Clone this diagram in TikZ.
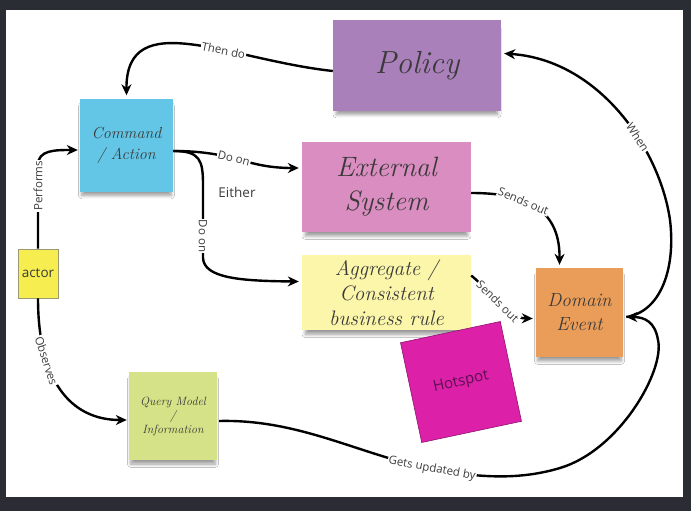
\documentclass[tikz,border=0pt]{standalone}
\usepackage{fontspec}
\newfontfamily\lab{Open Sans}
\usetikzlibrary{arrows.meta,calc,shadows.blur}
\definecolor{bgdark}{HTML}{2A2D33}
\definecolor{policyc}{HTML}{AA80BA}
\definecolor{cmdc}{HTML}{63C6E6}
\definecolor{extc}{HTML}{DA8DC0}
\definecolor{aggc}{HTML}{FBF6AA}
\definecolor{domc}{HTML}{EA9D58}
\definecolor{hotc}{HTML}{DC20A8}
\definecolor{hotborder}{HTML}{8E1470}
\definecolor{hottext}{HTML}{5A1050}
\definecolor{actorc}{HTML}{F6EE50}
\definecolor{actorborder}{HTML}{9C9A70}
\definecolor{queryc}{HTML}{D6E287}
\definecolor{notetext}{HTML}{3A3A3A}
\definecolor{labtext}{HTML}{3C3C3C}
\begin{document}
\begin{tikzpicture}[x=1pt,y=-1pt,
  note/.style={inner sep=0pt, align=center, text=notetext,
    blur shadow={shadow xshift=0pt, shadow yshift=-6pt, shadow scale=0.96, shadow blur steps=6, shadow blur radius=3.5pt, shadow opacity=40}},
  conn/.style={line width=2.4pt, black, -{Stealth[length=11pt,width=10pt]}},
  lbl/.style={font=\lab\fontsize{11.5}{13}\selectfont, text=labtext, fill=white, inner sep=1pt},
]
\useasboundingbox (0,0) rectangle (691,511);
\fill[bgdark] (0,0) rectangle (691,511);
\fill[white] (6,10) rectangle (683,497);

% notes
\node[note, fill=policyc, minimum width=168pt, minimum height=90pt,
  font=\itshape\fontsize{32}{36}\selectfont] (policy) at (417,65.5) {Policy};
\node[note, fill=cmdc, minimum width=93pt, minimum height=93pt,
  font=\itshape\fontsize{16}{21}\selectfont] (cmd) at (126.5,145) {Command\\/ Action};
\node[note, fill=extc, minimum width=169pt, minimum height=90pt,
  font=\itshape\fontsize{28}{34}\selectfont] (ext) at (386.5,187) {External\\System};
\node[note, fill=aggc, minimum width=169pt, minimum height=75pt,
  font=\itshape\fontsize{21}{25}\selectfont] (agg) at (386.5,292.5) {Aggregate /\\Consistent\\business rule};
\node[note, fill=domc, minimum width=87pt, minimum height=89pt,
  font=\itshape\fontsize{19}{24}\selectfont] (dom) at (579.5,312.5) {Domain\\Event};
\node[note, fill=queryc, minimum width=88pt, minimum height=88pt,
  font=\itshape\fontsize{12}{14}\selectfont] (query) at (173,416) {Query Model\\/\\Information};
\node[fill=actorc, draw=actorborder, line width=0.6pt, minimum width=40pt, minimum height=49pt, inner sep=0pt,
  font=\lab\fontsize{13.5}{15}\selectfont, text=notetext] (actor) at (38,273.5) {actor};
\node[fill=hotc, draw=hotborder, line width=0.6pt, minimum size=102pt, inner sep=0pt, rotate=12,
  font=\lab\fontsize{15}{18}\selectfont, text=hottext] (hot) at (461,382) {Hotspot};

\node[font=\lab\fontsize{13.5}{16}\selectfont, text=labtext] (either) at (237,192) {Either};

% connectors
\draw[conn] ($(policy.west)+(0,5.5)$) .. controls (230,60) and (126,5) .. ($(cmd.north)+(0,-3)$)
  node[lbl, pos=0.37, sloped] (l1) {Then do};
\draw[conn] (actor.north) -- (38,165) node[lbl, pos=0.75, rotate=90] (l2) {Performs}
  .. controls (38,150) and (55,150) .. ($(cmd.west)+(-2,5)$);
\draw[conn] (actor.south) .. controls (38,380) and (70,420) .. ($(query.west)+(-2,4)$)
  node[lbl, pos=0.3, sloped] (l3) {Observes};
\draw[conn] ($(cmd.east)+(0,6)$) .. controls (235,151) and (245,168) .. ($(ext.west)+(-3,-19)$)
  node[lbl, pos=0.45, sloped] (l4) {Do on};
\draw[conn] ($(cmd.east)+(0,6)$) .. controls (200,151) and (203,160) .. (203,185) -- (203,258)
  node[lbl, pos=0.7, rotate=-90] (l5) {Do on}
  .. controls (204,278) and (240,281) .. ($(agg.west)+(-3,-11)$);
\draw[conn] ($(ext.east)+(0,6)$) .. controls (520,193) and (560,205) .. ($(dom.north)+(-20,-3)$)
  node[lbl, pos=0.4, sloped] (l6) {Sends out};
\draw[conn] ($(agg.east)+(0,-17)$) .. controls (495,295) and (505,318) .. ($(dom.west)+(-3,6)$)
  node[lbl, pos=0.45, sloped] (l7) {Sends out};
\draw[conn] ($(dom.east)+(3,4.5)$) .. controls (660,312) and (676,270) .. (670,220)
  .. controls (660,150) and (600,60) .. ($(policy.east)+(3,-12)$)
  node[lbl, pos=0.38, sloped] (l8) {When};
\draw[conn] ($(query.east)+(2,5)$) .. controls (300,419) and (360,455) .. (432,469)
  .. controls (480,478) and (520,480) .. (560,468) node[lbl, pos=0, sloped] (l9) {Gets updated by}
  .. controls (620,450) and (665,370) .. (658,340)
  .. controls (655,322) and (645,317) .. ($(dom.east)+(3,4.5)$);
\end{tikzpicture}
\end{document}
